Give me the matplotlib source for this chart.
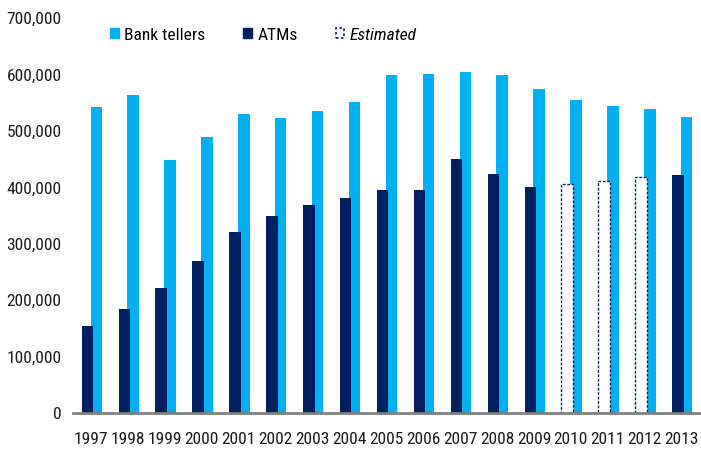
import matplotlib
matplotlib.use('Agg')
import matplotlib.pyplot as plt
from matplotlib import font_manager
from matplotlib.patches import Patch
from matplotlib.ticker import FuncFormatter

years = ['1997', '1998', '1999', '2000', '2001', '2002', '2003', '2004', '2005',
         '2006', '2007', '2008', '2009', '2010', '2011', '2012', '2013']
tellers = [542000, 564000, 448000, 489000, 530000, 523000, 535000, 551000, 599000,
           601000, 604000, 599000, 574000, 555000, 544000, 539000, 525000]
atms = [154000, 184000, 222000, 269000, 321000, 349000, 369000, 381000, 395000,
        395000, 450000, 424000, 400000, 406000, 412000, 418000, 422000]
estimated = [False] * 13 + [True, True, True] + [False]

light = '#00B0F0'
navy = '#002060'

# a narrow face fits the squeezed look of the original, if one is around
names = {f.name for f in font_manager.fontManager.ttflist}
narrow = [n for n in ['Roboto Condensed', 'Liberation Sans Narrow', 'Arial Narrow'] if n in names]
if narrow:
    plt.rcParams['font.family'] = [narrow[0], 'DejaVu Sans']
    fs = 12.5
else:
    plt.rcParams['font.family'] = ['Liberation Sans', 'DejaVu Sans']
    fs = 11.5

fig = plt.figure(figsize=(7.01, 4.53), dpi=100)
ax = fig.add_axes([0.1036, 0.0883, 0.8950, 0.8717])

x = list(range(len(years)))
w = 0.31
ax.bar([i + 0.14 for i in x], tellers, width=w, color=light, zorder=1)
for i, v in enumerate(atms):
    if estimated[i]:
        ax.bar(i - 0.1, v, width=w, facecolor='white', edgecolor=navy,
               linestyle=(0, (2, 1.2)), linewidth=1.0, zorder=2)
    else:
        ax.bar(i - 0.1, v, width=w, color=navy, zorder=2)

ax.set_xlim(-0.5, 16.5)
ax.set_ylim(0, 700000)
ax.set_yticks(range(0, 700001, 100000))
ax.yaxis.set_major_formatter(FuncFormatter(lambda v, p: f'{int(v):,}'))
ax.set_xticks(x)
ax.set_xticklabels(years)
ax.tick_params(axis='both', length=0, labelsize=fs, colors='#1a1a1a')
ax.tick_params(axis='x', pad=14)
ax.tick_params(axis='y', pad=8)

for s in ['top', 'right', 'left']:
    ax.spines[s].set_visible(False)
ax.spines['bottom'].set_color('#808080')
ax.spines['bottom'].set_linewidth(2)

handles = [Patch(facecolor=light, edgecolor=light),
           Patch(facecolor=navy, edgecolor=navy),
           Patch(facecolor='white', edgecolor=navy, linestyle=(0, (1.5, 1.5)), linewidth=1.2)]
leg = fig.legend(handles, ['Bank tellers', 'ATMs', 'Estimated'], ncol=3,
                 loc='center left', bbox_to_anchor=(110 / 701, 1 - 35 / 453),
                 frameon=False, fontsize=fs, borderpad=0, borderaxespad=0,
                 handlelength=0.5, handleheight=0.5,
                 handletextpad=0.3, columnspacing=2.2)
leg.get_texts()[2].set_style('italic')

fig.savefig('out.png', dpi=100)
